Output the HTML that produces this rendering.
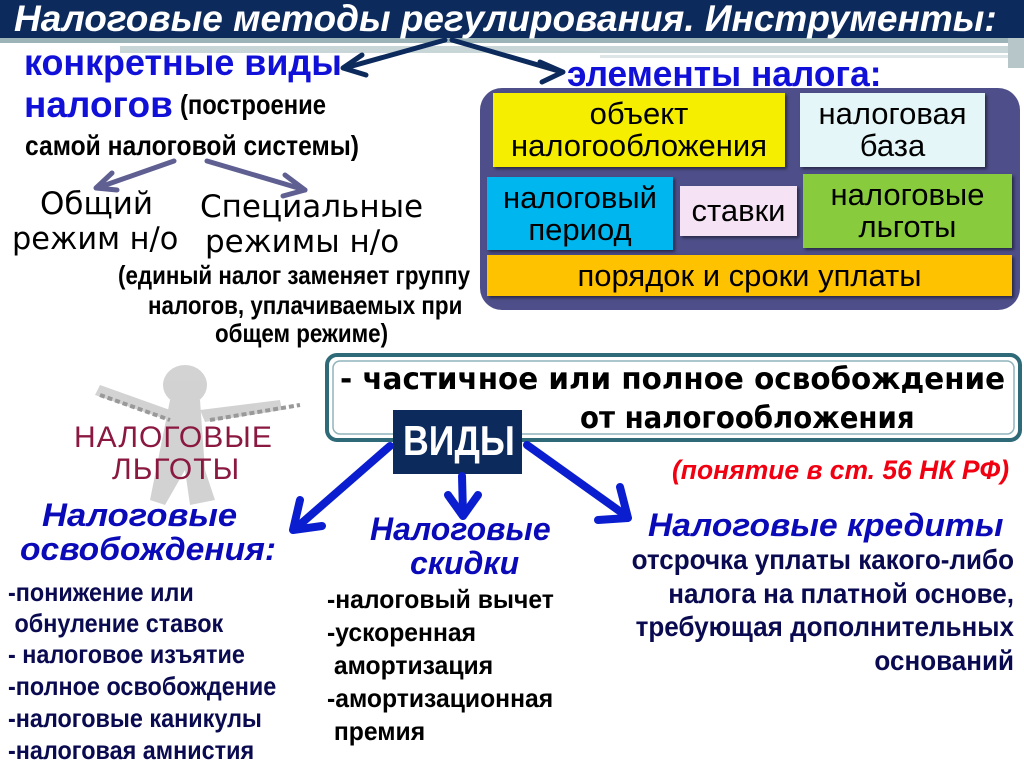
<!DOCTYPE html>
<html><head><meta charset="utf-8"><style>
body{margin:0;width:1024px;height:767px;overflow:hidden;background:#fff;position:relative;font-family:"Liberation Sans","DejaVu Sans",sans-serif}
.t{position:absolute;white-space:nowrap;transform-origin:0 0;line-height:1}
.b{font-weight:bold}
.box{position:absolute;box-sizing:border-box;display:flex;align-items:center;justify-content:center;text-align:center;font-size:31px;line-height:1.02;color:#000;box-shadow:2px 2px 3px rgba(0,0,0,.5)}
.c{font-family:"DejaVu Sans",sans-serif}
</style></head><body>
<svg width="1024" height="767" style="position:absolute;left:0;top:0">
<rect x="0" y="0" width="1024" height="38" fill="#0d2a5c"/>
<rect x="0" y="38" width="1024" height="5" fill="#9cb3b8"/>
<rect x="120" y="46" width="900" height="7" fill="#c9d6d8"/>
<rect x="600" y="55" width="420" height="3" fill="#dde5e6"/>
<rect x="1008" y="38" width="16" height="30" fill="#b7c7c9"/>
<g stroke="#0d2a5c" stroke-width="5" fill="none" stroke-linecap="round" stroke-linejoin="round">
<path d="M445 40 L345 68"/><path d="M362 55 L343 68 L366 75"/>
<path d="M452 40 L562 72"/><path d="M540 62 L563 72 L542 82"/>
</g>
<g stroke="#5f5f92" stroke-width="5" fill="none" stroke-linecap="round" stroke-linejoin="round">
<path d="M174 161 L97 188"/><path d="M112 173 L96 188 L117 190"/>
<path d="M207 161 L305 190"/><path d="M285 175 L305 190 L283 196"/>
</g>
<rect x="480" y="88" width="540" height="222" rx="22" fill="#4e4f8a"/>
<g fill="#c8c8c8" opacity=".8">
<ellipse cx="185" cy="385" rx="22" ry="20"/>
<path d="M170 400 L200 400 L205 470 L215 500 L190 505 L185 470 L165 505 L150 500 Z"/>
<path d="M100 385 L170 410 L168 420 L95 395 Z"/><path d="M200 410 L280 400 L282 410 L205 422 Z"/>
</g>
<g stroke="#999" stroke-width="4" stroke-dasharray="5 3" fill="none"><path d="M100 395 L170 420"/><path d="M210 420 L300 405"/></g>
<rect x="327" y="355" width="693" height="85" rx="10" fill="#fff" stroke="#2e6a78" stroke-width="4"/>
<rect x="333" y="361" width="681" height="73" rx="7" fill="none" stroke="#8fb4bc" stroke-width="1.5"/>
<rect x="393" y="410" width="129" height="64" fill="#0d2a5c"/>
<g stroke="#0a1ed0" stroke-width="8" fill="none" stroke-linecap="round" stroke-linejoin="round">
<path d="M390 446 L296 528"/><path d="M300 500 L293 530 L322 526"/>
<path d="M462 476 L463 514"/><path d="M448 495 L463 516 L478 495"/>
<path d="M527 445 L625 515"/><path d="M620 487 L628 518 L598 520"/>
</g>
</svg>
<div class="t" style="left:14px;top:0px;font-size:37px;font-weight:bold;font-style:italic;color:#fff;transform:scaleX(1.0)">Налоговые методы регулирования. Инструменты:</div>
<div class="t b" style="left:24px;top:44px;font-size:37px;color:#1010d8;transform:scaleX(.97)">конкретные виды</div>
<div class="t b" style="left:24px;top:86px;font-size:37px;color:#1010d8">налогов</div>
<div class="t b" style="left:180px;top:91px;font-size:28px;transform:scaleX(.85)">(построение</div>
<div class="t b" style="left:25px;top:132px;font-size:28px;transform:scaleX(.88)">самой налоговой системы)</div>
<div class="t c" style="left:40px;top:189px;font-size:31px">Общий</div>
<div class="t c" style="left:12px;top:224px;font-size:31px;transform:scaleX(.98)">режим н/о</div>
<div class="t c" style="left:200px;top:192px;font-size:31px;transform:scaleX(1.0)">Специальные</div>
<div class="t c" style="left:205px;top:227px;font-size:31px;transform:scaleX(1.0)">режимы н/о</div>
<div class="t b" style="left:118px;top:262px;font-size:26px;transform:scaleX(.86)">(единый налог заменяет группу</div>
<div class="t b" style="left:148px;top:292px;font-size:26px;transform:scaleX(.86)">налогов, уплачиваемых при</div>
<div class="t b" style="left:215px;top:320px;font-size:26px;transform:scaleX(.86)">общем режиме)</div>
<div class="t b" style="left:567px;top:56px;font-size:36px;color:#1010d8;transform:scaleX(.98)">элементы налога:</div>
<div class="box" style="left:493px;top:93px;width:292px;height:74px;background:#f5ee00">объект<br>налогообложения</div>
<div class="box" style="left:800px;top:93px;width:185px;height:74px;background:#e4f6f7">налоговая<br>база</div>
<div class="box" style="left:487px;top:177px;width:186px;height:73px;background:#00b6ee">налоговый<br>период</div>
<div class="box" style="left:680px;top:186px;width:117px;height:50px;background:#f5e3f5">ставки</div>
<div class="box" style="left:803px;top:174px;width:209px;height:74px;background:#88cc3d">налоговые<br>льготы</div>
<div class="box" style="left:487px;top:255px;width:525px;height:41px;background:#ffc200">порядок и сроки уплаты</div>
<div class="t" style="left:74px;top:423px;font-size:30px;color:#8a1840;letter-spacing:1px">НАЛОГОВЫЕ</div>
<div class="t" style="left:112px;top:455px;font-size:30px;color:#8a1840;letter-spacing:1px">ЛЬГОТЫ</div>
<div class="t c b" style="left:340px;top:365px;font-size:30px;transform:scaleX(.98)">- частичное или полное освобождение</div>
<div class="t c b" style="left:580px;top:404px;font-size:30px;transform:scaleX(.92)">от налогообложения</div>
<div class="t b" style="left:403px;top:420px;font-size:42px;color:#fff;transform:scaleX(.85)">ВИДЫ</div>
<div class="t b" style="left:672px;top:457px;font-size:27px;font-style:italic;color:#f00010;transform:scaleX(.98)">(понятие в ст. 56 НК РФ)</div>
<div class="t b" style="left:42px;top:499px;font-size:32px;font-style:italic;color:#0a0ab8;transform:scaleX(1.08)">Налоговые</div>
<div class="t b" style="left:20px;top:533px;font-size:32px;font-style:italic;color:#0a0ab8;transform:scaleX(1.05)">освобождения:</div>
<div class="t b" style="left:370px;top:513px;font-size:32px;font-style:italic;color:#0a0ab8;transform:scaleX(1.0)">Налоговые</div>
<div class="t b" style="left:410px;top:547px;font-size:32px;font-style:italic;color:#0a0ab8;transform:scaleX(1.0)">скидки</div>
<div class="t b" style="left:648px;top:509px;font-size:32px;font-style:italic;color:#0a0ab8;transform:scaleX(1.05)">Налоговые кредиты</div>
<div style="position:absolute;right:10px;top:543px;width:500px;text-align:right;font-size:28px;font-weight:bold;line-height:33.5px;color:#0a0a50">
<div style="transform:scaleX(.93);transform-origin:right top">отсрочка уплаты какого-либо</div>
<div style="transform:scaleX(.93);transform-origin:right top">налога  на платной основе,</div>
<div style="transform:scaleX(.93);transform-origin:right top">требующая дополнительных</div>
<div style="transform:scaleX(.93);transform-origin:right top">оснований</div></div>
<div style="position:absolute;left:8px;top:576px;font-size:26px;font-weight:bold;line-height:32px;color:#0a0a50;transform:scaleX(.9);transform-origin:0 0;white-space:nowrap">
<div>-понижение или</div><div style="line-height:30px">&nbsp;обнуление ставок</div><div>- налоговое изъятие</div><div>-полное освобождение</div><div>-налоговые каникулы</div><div>-налоговая амнистия</div></div>
<div style="position:absolute;left:327px;top:583px;font-size:26px;font-weight:bold;line-height:33px;color:#000;transform:scaleX(.95);transform-origin:0 0;white-space:nowrap">
<div>-налоговый вычет</div><div>-ускоренная</div><div>&nbsp;амортизация</div><div>-амортизационная</div><div>&nbsp;премия</div></div>
</body></html>
